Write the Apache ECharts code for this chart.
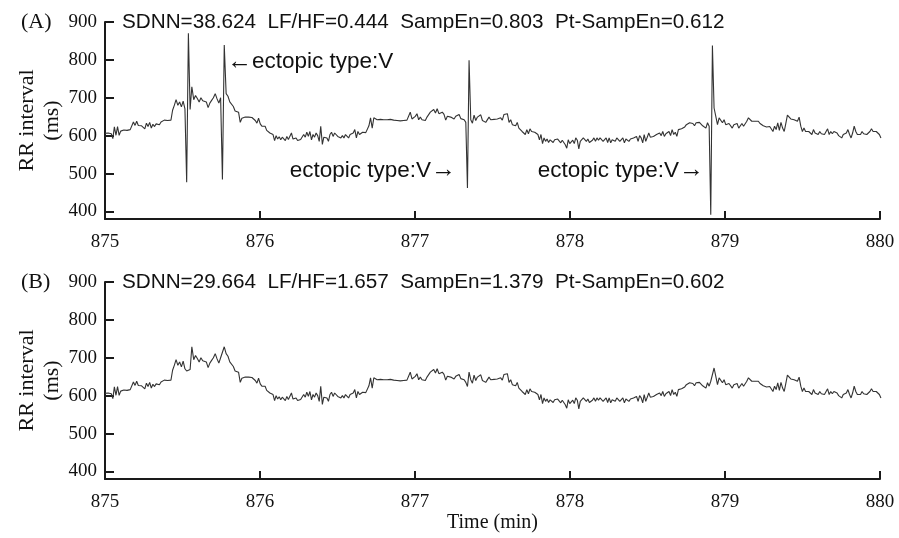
<!DOCTYPE html>
<html>
<head>
<meta charset="utf-8">
<script src="https://cdn.jsdelivr.net/npm/echarts@6/dist/echarts.min.js"></script>
<style>
html,body{margin:0;padding:0;background:#fff;}
#chart{width:899px;height:538px;}
</style>
</head>
<body>
<div id="chart"></div>
<script>
// ---- tick labels ----
const timeTicks = [875, 876, 877, 878, 879, 880];
const rrTicks = [400, 500, 600, 700, 800, 900];

// ---- corrected RR intervals (ms), in four stretches ----
const rrSeg1 = [606, 608, 607, 609, 605,
  592, 623, 601, 624, 601, 612, 610,
  615, 617, 614, 618, 616, 621,
  636, 627, 638, 627, 632, 626, 631, 618, 633, 624, 635, 620, 630, 624, 631, 626, 629, 636,
  640, 641, 640, 640, 641, 641,
  667, 680, 695, 680, 689, 676, 691, 671,
  665, 668,
  669, 729,
  695, 706, 698, 689, 700, 692, 697, 689, 674, 686, 693, 700, 711, 697, 686, 700,
  705, 729,
  711, 704, 689, 686, 677, 665, 668, 662, 635,
  646, 649, 649, 648, 649, 649, 648,
  645, 640, 633, 646, 631, 625, 626, 625, 614, 618, 607, 612, 603,
  587, 600, 591, 597, 589, 596, 591, 587, 598, 590, 592, 607, 591, 596, 594, 587, 592, 590];
const rrSeg2 = [588, 603, 596, 609, 598, 611, 589, 603, 596, 607, 600, 585, 625, 577, 596,
  594, 594, 585, 603, 609, 598, 607, 603, 598, 600, 594, 600, 594, 603, 598, 594, 603, 600, 607, 616,
  594, 611, 603, 607, 609, 609, 608, 612,
  626, 647, 620, 647, 642, 642,
  640, 643, 641, 642, 638, 642, 640, 643, 638, 641, 643, 640, 641, 639, 642, 640, 644, 641, 639,
  662, 644, 640, 651, 658, 642, 649, 642, 647, 640, 649, 644,
  662, 658, 669, 660, 671, 658, 660, 662, 656,
  641, 651, 653, 649, 647, 644, 651, 656, 656, 645, 644, 642, 635,
  624, 662,
  642, 633, 654, 640, 649, 644, 655, 640, 635, 635, 638, 649, 642, 642, 643, 642];
const rrSeg3 = [644, 642, 647, 641, 656, 651, 658, 635, 642, 629, 634, 626, 635, 620, 625, 611, 616, 603,
  616, 605, 618, 611, 616, 609, 612, 603, 589, 603, 579, 594, 585, 591, 582, 589, 588, 582, 589, 585, 591, 594,
  581, 588, 585, 576, 567, 589, 579, 582, 588, 579, 594, 588, 565, 585, 589, 594, 589, 585, 591, 582, 585,
  588, 594, 585, 594, 588, 594, 591, 585, 589, 594, 582, 594, 581, 589, 594, 585, 594, 589, 585, 589,
  594, 581, 591, 589, 585, 591, 588, 594, 589, 598, 585, 600, 594, 581, 603, 585, 581, 607, 596, 600, 598, 603,
  603, 598, 607, 600, 611, 598, 605, 607, 611, 600, 616, 603, 609, 598, 616, 611, 618, 614, 623, 629, 634];
const rrSeg4 = [634, 629, 632, 626, 634, 629, 635, 632, 626, 629, 620, 634, 625,
  638, 640,
  673, 651, 629, 647, 642, 634, 642, 629, 626, 632, 635, 620, 629, 625, 632, 620, 618, 632, 625, 626, 638,
  647, 642, 638, 642, 638, 635, 638, 632, 634, 626, 625, 623, 623, 624, 623,
  611, 625, 616, 634, 614, 635, 620, 611, 632, 654, 651, 644, 649, 642, 647, 638, 649, 625,
  611, 620, 611, 612, 611, 610, 603, 616, 607, 611, 603, 611, 605, 609, 603, 607, 618, 603, 611,
  605, 611, 616, 607, 600, 603, 594, 603, 598, 607, 616, 603, 594, 607, 625, 611, 603, 607, 603, 611, 605, 609, 603, 607, 611, 618, 611, 607, 611, 609, 603, 594];

// ---- ectopic (type V) beats present in the raw series (A) ----
const ectopicSeg = [0, 0, 1, 3];
const ectopicIdx = [50, 70, 102, 13];
const ectopicShort = [477, 484, 462, 391];
const ectopicLong = [870, 839, 799, 838];

// ---- texts ----
const statsA = 'SDNN=38.624  LF/HF=0.444  SampEn=0.803  Pt-SampEn=0.612';
const statsB = 'SDNN=29.664  LF/HF=1.657  SampEn=1.379  Pt-SampEn=0.602';
const annTimes = [875.787, 877.265, 878.865];
const annValues = [794, 507, 507];
const annSide = ['right', 'left', 'left'];

const startTime = 875;

// build series
const segs = [rrSeg1, rrSeg2, rrSeg3, rrSeg4];
const offsets = [];
let off = 0;
segs.forEach(s => { offsets.push(off); off += s.length; });
const rrB = [].concat(...segs);
const rrA = rrB.slice();
for (let k = 0; k < ectopicIdx.length; k++) {
  const g = offsets[ectopicSeg[k]] + ectopicIdx[k];
  rrA[g] = ectopicShort[k];
  rrA[g + 1] = ectopicLong[k];
}
const times = [];
let t = startTime;
for (let i = 0; i < rrB.length; i++) { times.push(t); t += rrB[i] / 60000; }
const dataA = times.map((x, i) => [x, rrA[i]]);
const dataB = times.map((x, i) => [x, rrB[i]]);

const serif = 'Liberation Serif, Times New Roman, serif';
const sans = 'Liberation Sans, Arial, sans-serif';
const axisColor = '#1a1a1a';

function xAxisCfg(idx, withName) {
  const a = {
    type: 'value', gridIndex: idx, min: 875, max: 880, interval: 1,
    axisLine: { show: true, lineStyle: { color: axisColor, width: 2 } },
    axisTick: { show: true, inside: true, length: 8, lineStyle: { color: axisColor, width: 2 } },
    axisLabel: { fontFamily: serif, fontSize: 19, color: '#111', margin: 14,
                 customValues: timeTicks },
    splitLine: { show: false }
  };
  if (withName) {
    a.name = 'Time (min)';
    a.nameLocation = 'middle';
    a.nameGap = 34;
    a.nameMoveOverlap = false;
    a.nameTextStyle = { fontFamily: serif, fontSize: 20, color: '#111' };
  }
  return a;
}
function yAxisCfg(idx) {
  return {
    type: 'value', gridIndex: idx, min: 380, max: 900,
    name: 'RR interval\n(ms)', nameLocation: 'middle', nameGap: 40, nameRotate: 90,
    nameMoveOverlap: false,
    nameTextStyle: { fontFamily: serif, fontSize: 22, color: '#111', lineHeight: 25 },
    axisLine: { show: true, lineStyle: { color: axisColor, width: 2 } },
    axisTick: { show: true, inside: true, length: 9, customValues: rrTicks,
                lineStyle: { color: axisColor, width: 2 } },
    axisLabel: { fontFamily: serif, fontSize: 19, color: '#111', margin: 8, customValues: rrTicks },
    splitLine: { show: false }
  };
}

const annLabel = (side) => ({
  show: true,
  position: side,
  distance: 0,
  formatter: side === 'right' ? '{a|\u2190}{b|ectopic type:V}' : '{b|ectopic type:V}{a|\u2192}',
  rich: {
    a: { fontFamily: serif, fontSize: 25, color: '#111' },
    b: { fontFamily: sans, fontSize: 22.5, color: '#111' }
  }
});

const chart = echarts.init(document.getElementById('chart'), null, { renderer: 'canvas' });
chart.setOption({
  animation: false,
  backgroundColor: '#fff',
  title: [
    { text: '(A)', left: 21, top: 10, padding: 0, textStyle: { fontFamily: serif, fontSize: 22, fontWeight: 'normal', color: '#111', lineHeight: 24 } },
    { text: statsA, left: 122, top: 11, padding: 0, textStyle: { fontFamily: sans, fontSize: 20.7, fontWeight: 'normal', color: '#111', lineHeight: 22 } },
    { text: '(B)', left: 21, top: 270, padding: 0, textStyle: { fontFamily: serif, fontSize: 22, fontWeight: 'normal', color: '#111', lineHeight: 24 } },
    { text: statsB, left: 122, top: 271, padding: 0, textStyle: { fontFamily: sans, fontSize: 20.7, fontWeight: 'normal', color: '#111', lineHeight: 22 } }
  ],
  grid: [
    { left: 105, top: 22, width: 775, height: 197 },
    { left: 105, top: 282, width: 775, height: 197 }
  ],
  xAxis: [xAxisCfg(0, false), xAxisCfg(1, true)],
  yAxis: [yAxisCfg(0), yAxisCfg(1)],
  series: [
    {
      type: 'line', xAxisIndex: 0, yAxisIndex: 0, data: dataA, showSymbol: false,
      lineStyle: { color: '#333', width: 1.1 }, silent: true,
      markPoint: {
        symbol: 'circle', symbolSize: 0, silent: true,
        data: annTimes.map((x, i) => ({ coord: [x, annValues[i]], label: annLabel(annSide[i]), itemStyle: { color: 'transparent' } }))
      }
    },
    {
      type: 'line', xAxisIndex: 1, yAxisIndex: 1, data: dataB, showSymbol: false,
      lineStyle: { color: '#333', width: 1.1 }, silent: true
    }
  ]
});
</script>
</body>
</html>
